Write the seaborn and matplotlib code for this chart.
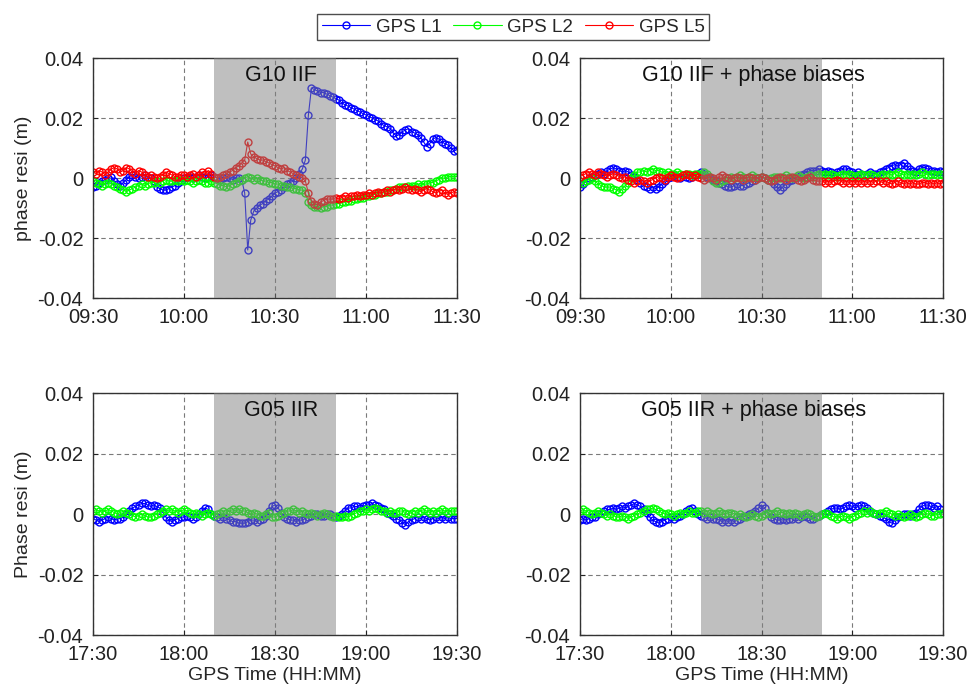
import numpy as np
import pandas as pd
import matplotlib
matplotlib.use("Agg")
import matplotlib.pyplot as plt
import seaborn as sns

# sampling: one epoch per minute over two hours
minutes = np.arange(121)

top_ticks = ["09:30", "10:00", "10:30", "11:00", "11:30"]
bottom_ticks = ["17:30", "18:00", "18:30", "19:00", "19:30"]
tick_pos = [0, 30, 60, 90, 120]
y_ticks = [-0.04, -0.02, 0, 0.02, 0.04]
y_tick_labels = ["-0.04", "-0.02", "0", "0.02", "0.04"]
band = (40, 80)  # shaded period, minutes after start

signals = ["GPS L1", "GPS L2", "GPS L5"]
colors = {"GPS L1": "#0000ff", "GPS L2": "#00ff00", "GPS L5": "#ff0000"}

# residuals in mm
g10_l1 = [-3, -2.5, -1.5, -1, -0.5, 0, 0.5, -1, -2, -2.5,
          -1.5, -0.5, 0.5, 1, 0.5, 0, 0.5, 1, 0.5, 0,
          -1, -3, -3.5, -4, -4, -3.5, -3, -2.5, -1.5, -1,
          0, 0.5, 0.5, 0, 0.5, 1, 0.5, 0, 0.5, 1,
          0.5, 0, -0.5, 0, 0.5, 0, -0.5, 0, 0, -0.5,
          -5, -24, -14, -11, -10, -9, -8.5, -7.5, -7, -6,
          -5, -4.5, -4, -3, -2, -1.5, -1, 0, 1.5, 3,
          6, 21, 30, 29.5, 29, 28.5, 28.5, 28, 27.5, 27,
          26.5, 26, 25, 24.5, 24, 23.5, 23, 22.5, 22, 21.5,
          21, 20.5, 20, 19.5, 19, 18, 17.5, 17, 16.5, 15,
          14, 14.5, 15.5, 16, 16.5, 15.5, 15, 14.5, 13.5, 12,
          10.5, 11.5, 13, 13.5, 13, 12, 11.5, 11, 10, 9,
          9.5]
g10_l2 = [-1, -1.5, -2, -2.5, -2, -1.5, -2, -2.5, -3, -3.5,
          -4, -4.5, -4, -3.5, -3, -2.5, -2, -2.5, -2, -1.5,
          -1.5, -1, -1.5, -1, -0.5, -1, -1, -0.5, -1, -0.5,
          -1, -0.5, -1, -1.5, -1, -0.5, -1, -1.5, -1.5, -1,
          -1.5, -2, -2.5, -2.5, -3, -2.5, -2, -1.5, -1, -0.5,
          0, 0.5, 0, -0.5, 0, -0.5, -1, -1, -1.5, -1.5,
          -2, -2, -2.5, -2.5, -3, -3, -3.5, -3.5, -4, -4,
          -5, -8, -9, -9.5, -9.5, -10, -9.5, -9.5, -9, -9,
          -8.5, -8.5, -8, -8, -7.5, -7.5, -7, -7, -6.5, -6.5,
          -6, -6, -5.5, -5.5, -5, -5, -4.5, -4.5, -4, -4,
          -3.5, -3, -3, -3, -2.5, -2.5, -2.5, -2, -2.5, -2,
          -2, -1.5, -1.5, -1, -0.5, 0, 0, 0.5, 0.5, 0.5,
          0.5]
g10_l5 = [2, 1.5, 2.5, 2, 1, 2, 3, 3.5, 3, 2,
          2.5, 3.5, 3, 2, 1.5, 2.5, 2, 1, 0.5, 1,
          0.5, 0, 0.5, 1, 2, 1.5, 1, 0.5, 0.5, 1,
          1, 0.5, 1, 1.5, 0.5, 1, 2, 1.5, 2.5, 1.5,
          0.5, 0, 0.5, 1, 1.5, 2, 2.5, 3.5, 4, 5,
          6, 12, 8, 7, 6.5, 6, 6, 5.5, 5, 4.5,
          4, 3.5, 3, 3.5, 2.5, 2, 1.5, 1, 0.5, 0,
          -1, -5, -7.5, -8.5, -9, -8, -7.5, -7, -7, -7,
          -6.5, -7, -6.5, -6, -6.5, -6, -6, -5.5, -6, -5.5,
          -5.5, -5, -5.5, -5, -4.5, -5, -4.5, -4, -4.5, -4,
          -3.5, -4, -3.5, -3, -3.5, -4, -3.5, -4, -4.5, -4,
          -3.5, -4, -4.5, -5, -4.5, -4, -5, -5.5, -5, -4.5,
          -5]

g10pb_l1 = [-3, -2, -1, 0, 0.5, 1, 1.5, 2, 1.5, 2.5,
            3, 3.5, 3, 2.5, 2, 2.5, 2, 1, 0.5, -0.5,
            -1.5, -2.5, -3, -3.5, -3, -3.5, -3, -2, -1, 0,
            0.5, 1, 0.5, 0, 1, 0.5, 0, 0.5, 1, 1.5,
            2, 1.5, 0.5, 0, -0.5, -1, -1.5, -2, -2.5, -3,
            -3, -2.5, -2, -2.5, -2.5, -2, -1.5, -1, -0.5, 0,
            0.5, 0, -0.5, -1, -2, -3, -4, -3, -2, -1,
            -0.5, 0, 0.5, 1, 1.5, 2, 2.5, 2.5, 2.5, 3,
            2.5, 2, 2.5, 2, 1.5, 2, 2.5, 3, 3, 2.5,
            2, 1.5, 2, 1.5, 1, 1.5, 2, 1.5, 1.5, 2,
            2.5, 3, 3.5, 4, 4.5, 4, 4.5, 5, 4, 3,
            2.5, 2, 3, 3.5, 3.5, 3, 2.5, 2.5, 2, 2.5,
            2]
g10pb_l2 = [-1, -1.5, -1, -0.5, 0, -1, -2, -2.5, -3, -3,
            -3, -3.5, -4, -4.5, -3.5, -2.5, -1.5, 0, 1, 2,
            2, 2.5, 2, 2.5, 3, 2.5, 2.5, 2, 1.5, 2,
            1.5, 1.5, 2, 1.5, 1, 1.5, 1.5, 1, 1.5, 1.5,
            1.5, 2, 1.5, 0.5, -1, -1.5, -1.5, -1, -0.5, 0,
            0.5, 0, 0.5, 1, 0.5, 0, 0.5, 1, 0.5, 0,
            0.5, 0, -0.5, 0, 0.5, 0.5, 0, 0.5, 1, 0.5,
            0, 0.5, 1, 0.5, 0, 0.5, 1, 0.5, 1, 1.5,
            1, 1.5, 1, 1.5, 1, 0.5, 1, 1.5, 1, 1.5,
            1, 0.5, 1, 1.5, 1, 1, 1.5, 1, 0.5, 1,
            1.5, 1, 1.5, 1, 1.5, 2, 1.5, 1, 1.5, 1,
            1.5, 1, 1.5, 2, 1.5, 1, 1.5, 1.5, 1, 1.5,
            1]
g10pb_l5 = [0.5, 1, 1.5, 2, 1.5, 1, 2, 1.5, 1, 0.5,
            1, 1.5, 1, 0.5, 0, 0.5, -0.5, -1, -1.5, -1,
            -0.5, -1, -1.5, -1, -0.5, 0, 0.5, 0, -0.5, 0.5,
            1, 0.5, 0, 0.5, 1, 1.5, 1, 0.5, 1, 0.5,
            0, -0.5, 0, 0.5, 0, -0.5, 0.5, 1, 0.5, 0,
            -0.5, 0, 0.5, 0, -0.5, 0, 0.5, 0, -0.5, 0,
            0.5, 0, -0.5, -1, -0.5, 0, 0.5, 0, -0.5, 0,
            0.5, 0, -0.5, -1, -0.5, 0, 0.5, -0.5, -1, -1,
            -1, -1.5, -1, -1.5, -1, -0.5, -1, -1.5, -1, -1.5,
            -1, -1.5, -1, -1.5, -1, -1.5, -1, -1.5, -1, -1,
            -1.5, -1, -1.5, -2, -1.5, -1, -1.5, -2, -1.5, -2,
            -1.5, -2, -2, -1.5, -1.5, -2, -1.5, -2, -1.5, -2,
            -1.5]

g05_l1 = [-1.5, -2, -2.5, -2, -1.5, -1, -1.5, -2, -1.5, -1.5,
          -1, 0, 1, 2, 2.5, 3, 3.5, 3.5, 3, 2.5,
          3, 2.5, 2, 0.5, -1, -2, -2.5, -2, -1.5, -1,
          -1, -0.5, -1, -1.5, -1, 0, 1, 2, 1.5, 0,
          -0.5, -1, -1.5, -1, -1.5, -2, -2.5, -2.5, -3, -3,
          -3, -2.5, -2, -2, -2.5, -2, -1.5, -0.5, 1, 2.5,
          3, 2, 0.5, -1, -1.5, -2, -2, -2.5, -2, -2,
          -1.5, -1, -0.5, 0, 0, -0.5, -0.5, 0, 0, -0.5,
          -1, -0.5, 0, 1, 2, 2, 2.5, 2.5, 2, 2.5,
          3, 3, 3.5, 3, 2.5, 2, 1.5, 0.5, 0, -0.5,
          -1.5, -2, -3, -3.5, -2.5, -2, -1.5, -1, -1.5, -1,
          -1.5, -2, -1.5, -1, -1.5, -1, -1.5, -1, -1.5, -1.5,
          -1.5]
g05_l2 = [1, 1.5, 1, 0.5, 1, 1.5, 1, 0.5, 0, 0.5,
          1, 0.5, 0, -0.5, -1, -0.5, 0, -0.5, -1, -1,
          -0.5, 0, 0.5, 1, 1.5, 1, 1.5, 1, 0.5, 1,
          1.5, 1, 0.5, 0, 0.5, 0, -0.5, 0, 0.5, 0,
          -0.5, 0, 0.5, 1, 0.5, 1, 1.5, 1, 1.5, 1,
          1, 0.5, 0, 0.5, 0, -0.5, -0.5, 0, 0.5, -1,
          -1, -0.5, 0, 0.5, 1, 1, 1.5, 1, 0.5, 1,
          0.5, 0, 0.5, 0, -0.5, 0, 0.5, 0, -0.5, -1,
          -0.5, -1, -1, -0.5, -1, -0.5, 0, 0.5, 1, 1,
          1.5, 1, 1.5, 2, 1.5, 1, 1, 0.5, 1, 0.5,
          0.5, 1, 1, 0.5, 0, 0.5, 1, 0.5, 1, 1.5,
          1, 0.5, 1, 0.5, 1, 1.5, 1, 0.5, 1, 1,
          1]

g05pb_l1 = [-2, -1.5, -2, -1.5, -1, -1, 0, 0.5, 1, 1.5,
            1.5, 2, 1.5, 2, 2.5, 2, 2.5, 3, 3.5, 3,
            2.5, 1.5, 0.5, -1, -2, -2.5, -3, -2.5, -2, -1.5,
            -1, -1.5, -1, -0.5, 0, 1, 1.5, 2, 1, 0,
            -0.5, -1, -1.5, -1, -1.5, -1.5, -2, -2.5, -2, -2.5,
            -2, -2.5, -2, -1.5, -1, -0.5, 0, 0.5, 1, 2,
            3, 2, 0.5, -1, -1.5, -2, -2, -1.5, -2, -1.5,
            -1.5, -1, -1.5, -1, -0.5, -1, -1.5, -1.5, -1, -0.5,
            0, 0.5, 1, 1.5, 2, 2, 1.5, 2, 2.5, 3,
            2.5, 2, 2.5, 3, 2.5, 2, 1, 0.5, 0, -0.5,
            -1, -1.5, -2.5, -3, -2, -1, -0.5, 0, 0, -0.5,
            0, 0.5, 1.5, 2.5, 3, 3, 2.5, 2, 2.5, 1.5,
            0.5]
g05pb_l2 = [1, 1.5, 1, 0.5, 0, 0.5, 1, 0.5, 0, -0.5,
            0, -0.5, -1, -1, -0.5, -1, -1.5, -1, -0.5, 0,
            0.5, 1, 1.5, 1.5, 2, 1.5, 1, 0.5, 0, 0.5,
            0, -0.5, 0, 0.5, 0, 0.5, 1, 0.5, 0.5, 1,
            1, 0.5, 1, 0.5, 0, 0.5, 1, 0.5, 0, 0.5,
            0.5, 0, -0.5, 0, -0.5, -1, -0.5, 0, -0.5, -1,
            -0.5, 0, 0.5, 0, 0.5, 1, 0.5, 0.5, 0, 0.5,
            0, 0.5, 0, -0.5, 0, 0.5, 0, -0.5, -1, -0.5,
            0, 0.5, 0, -0.5, -1, -1.5, -1, -0.5, -1, -1.5,
            -1, -0.5, 0, 0.5, 1, 0.5, 1, 0.5, 0, 0.5,
            0.5, 1, 0.5, 0, -0.5, 0, -0.5, -1, -0.5, 0,
            -0.5, -1, -0.5, 0, 0.5, 0, -0.5, -0.5, 0, 0,
            0.5]

panels = [
    ("G10 IIF", top_ticks, {"GPS L1": g10_l1, "GPS L2": g10_l2, "GPS L5": g10_l5}),
    ("G10 IIF + phase biases", top_ticks, {"GPS L1": g10pb_l1, "GPS L2": g10pb_l2, "GPS L5": g10pb_l5}),
    ("G05 IIR", bottom_ticks, {"GPS L1": g05_l1, "GPS L2": g05_l2}),
    ("G05 IIR + phase biases", bottom_ticks, {"GPS L1": g05pb_l1, "GPS L2": g05pb_l2}),
]

sns.set_theme(style="white")
plt.rcParams["font.family"] = ["Liberation Sans", "DejaVu Sans"]

fig = plt.figure(figsize=(9.72, 6.91), dpi=100)
boxes = [
    [0.0957, 0.5687, 0.3745, 0.3473],
    [0.5967, 0.5687, 0.3735, 0.3473],
    [0.0957, 0.0810, 0.3745, 0.3502],
    [0.5967, 0.0810, 0.3735, 0.3502],
]
title_x = [0.516, 0.477, 0.516, 0.477]

axes = []
for i, (title, xlabels, series) in enumerate(panels):
    ax = fig.add_axes(boxes[i])
    axes.append(ax)
    frames = []
    for sig, vals in series.items():
        frames.append(pd.DataFrame({"t": minutes, "res": np.array(vals) / 1000.0, "sig": sig}))
    df = pd.concat(frames, ignore_index=True)
    for sig in series:
        sub = df[df["sig"] == sig]
        sns.lineplot(data=sub, x="t", y="res", ax=ax, color=colors[sig], lw=0.8,
                     marker="o", markersize=5, markerfacecolor="none",
                     markeredgecolor=colors[sig], markeredgewidth=1.0,
                     errorbar=None, legend=False, label=sig, zorder=2)
    ax.axvspan(band[0], band[1], facecolor=(0.5, 0.5, 0.5, 0.5), edgecolor="none", zorder=3)
    ax.set_xlim(0, 120)
    ax.set_ylim(-0.04, 0.04)
    ax.set_xticks(tick_pos)
    ax.set_xticklabels(xlabels)
    ax.set_yticks(y_ticks)
    ax.set_yticklabels(y_tick_labels)
    ax.tick_params(direction="in", length=3.5, width=0.8, pad=7, labelsize=14.5,
                   colors="#222222", bottom=True, left=True, top=False, right=False)
    ax.grid(True, linestyle=(0, (4, 3)), color="#7a7a7a", lw=0.8)
    ax.set_axisbelow(True)
    for sp in ax.spines.values():
        sp.set_color("#333333")
        sp.set_linewidth(1.0)
        sp.set_visible(True)
    ax.text(title_x[i], 0.905, title, transform=ax.transAxes, ha="center",
            va="baseline", fontsize=15.5, color="#111111", zorder=5)
    ax.set_xlabel("")
    ax.set_ylabel("")

axes[0].set_ylabel("phase resi (m)", fontsize=14, labelpad=4)
axes[2].set_ylabel("Phase resi (m)", fontsize=14, labelpad=4)
axes[2].set_xlabel("GPS Time (HH:MM)", fontsize=14, labelpad=2)
axes[3].set_xlabel("GPS Time (HH:MM)", fontsize=14, labelpad=2)

handles = axes[0].get_lines()[:3]
fig.legend(handles, signals, loc="center", bbox_to_anchor=(0.528, 0.961), ncol=3,
           numpoints=1, handlelength=2.6, handletextpad=0.3, columnspacing=0.6,
           fontsize=13.5, frameon=True, fancybox=False, edgecolor="#222222",
           borderpad=0.25, borderaxespad=0)
fig.legends[0].get_frame().set_linewidth(1.0)

fig.savefig("out.png", dpi=100)
